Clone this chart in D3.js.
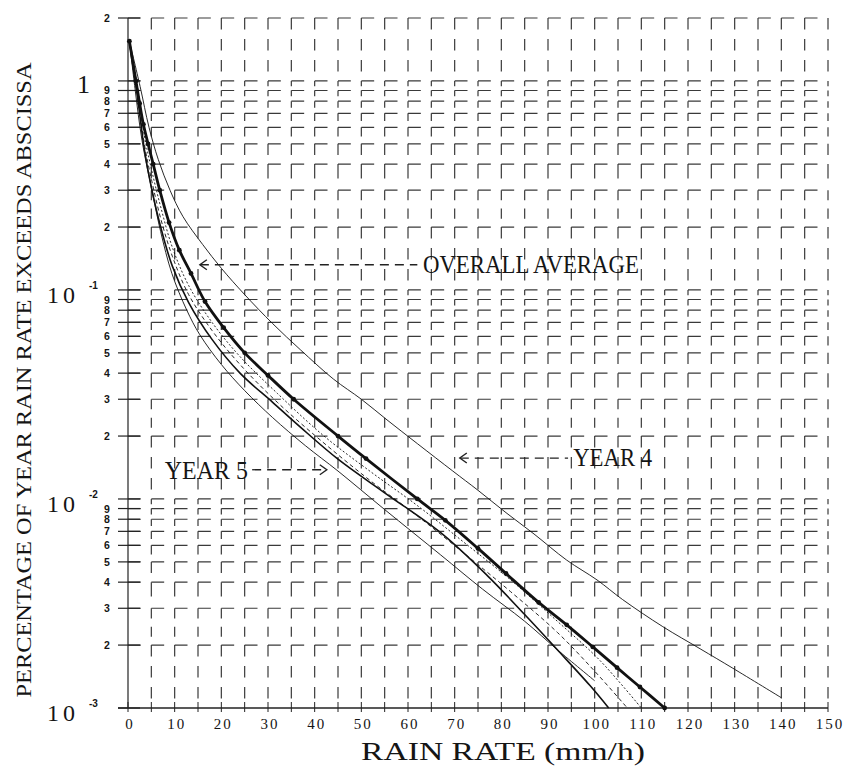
<html>
<style>
  body { margin: 0; background: #fff; }
  text { font-family: 'Liberation Serif', 'Times New Roman', serif; fill: #151515; }
  .minor { font-family: 'Liberation Sans', Arial, sans-serif; font-weight: bold; font-size: 10.5px; }
  .grid line { stroke: #3a3a3a; stroke-width: 1.2; }
  .curve { fill: none; stroke: #111; }
</style>
<body>
<svg width="847" height="771"></svg>
<script src="https://d3js.org/d3.v7.min.js"></script>
<script>
// rain rate (mm/h) vs percentage of year the rate is exceeded
const overallRate = [0.3, 1.7, 2.5, 3.3, 4.3, 5.4, 6.8, 8.8, 11, 13.5, 16.5, 20.5, 25, 30, 35.5, 45, 51, 62, 68, 75, 81, 88, 94, 99.6, 104.8, 109.7, 115]
const overallPct  = [1.55, 1.0, 0.78, 0.62, 0.5, 0.4, 0.3, 0.21, 0.155, 0.12, 0.088, 0.066, 0.05, 0.039, 0.03, 0.02, 0.0156, 0.01, 0.0079, 0.0058, 0.0044, 0.0032, 0.0025, 0.00196, 0.00156, 0.00126, 0.001]

const year4Rate = [0.3, 2.6, 4.5, 6.5, 9, 11.8, 16, 20, 25, 31, 37, 44, 50, 55.5, 62, 69.6, 75, 81, 87, 94, 100.5, 106, 114.6, 122.6, 129.6, 140]
const year4Pct  = [1.55, 0.94, 0.6, 0.42, 0.3, 0.224, 0.165, 0.127, 0.095, 0.069, 0.0516, 0.0375, 0.03, 0.0239, 0.0184, 0.0136, 0.011, 0.0086, 0.0068, 0.0051, 0.0041, 0.0033, 0.00245, 0.00192, 0.00155, 0.00112]

const year5Rate = [0.3, 1.5, 3, 5.4, 7, 9.4, 12.6, 15.4, 20, 25, 31, 38, 45, 55, 67, 76, 85, 92, 100]
const year5Pct  = [1.55, 0.92, 0.52, 0.28, 0.19, 0.12, 0.08, 0.061, 0.044, 0.033, 0.0245, 0.018, 0.0136, 0.0089, 0.0054, 0.0037, 0.0026, 0.0019, 0.00135]

const year1Rate = [0.3, 2, 3.5, 5, 7, 9.5, 13, 18, 24, 32, 42, 52, 62, 72, 82, 92, 101, 110]
const year1Pct  = [1.55, 0.95, 0.55, 0.38, 0.25, 0.16, 0.105, 0.07, 0.048, 0.032, 0.02, 0.0135, 0.0093, 0.0062, 0.0041, 0.0026, 0.0017, 0.001]

const year2Rate = [0.3, 2, 3.5, 5, 7, 9.5, 13, 18, 24, 32, 42, 52, 62, 72, 82, 92, 100, 107]
const year2Pct  = [1.55, 0.9, 0.5, 0.34, 0.22, 0.145, 0.095, 0.064, 0.044, 0.029, 0.0185, 0.0122, 0.0083, 0.0055, 0.0036, 0.0023, 0.0015, 0.001]

const year3Rate = [0.3, 2, 3.5, 5, 7, 9.5, 13, 18, 24, 31, 37, 45, 55, 67, 77, 85, 92, 99, 103]
const year3Pct  = [1.55, 0.85, 0.47, 0.31, 0.2, 0.13, 0.087, 0.058, 0.04, 0.029, 0.022, 0.0155, 0.0107, 0.0069, 0.0043, 0.0028, 0.0019, 0.00128, 0.001]

const xTicks = [0, 10, 20, 30, 40, 50, 60, 70, 80, 90, 100, 110, 120, 130, 140, 150]
const gridRates = [0,5,10,15,20,25,30,35,40,45,50,55,60,65,70,75,80,85,90,95,100,105,110,115,120,125,130,135,140,145,150]
const gridPcts = [0.001,0.002,0.003,0.004,0.005,0.006,0.007,0.008,0.009,
                  0.01,0.02,0.03,0.04,0.05,0.06,0.07,0.08,0.09,
                  0.1,0.2,0.3,0.4,0.5,0.6,0.7,0.8,0.9,1,2]
const majorPcts = [1, 0.1, 0.01, 0.001]
const majorExp = ["", "-1", "-2", "-3"]
const minorPcts = [2, 0.9,0.8,0.7,0.6,0.5,0.4,0.3,0.2,
                   0.09,0.08,0.07,0.06,0.05,0.04,0.03,0.02,
                   0.009,0.008,0.007,0.006,0.005,0.004,0.003,0.002]
const minorLabels = ["2","9","8","7","6","5","4","3","2","9","8","7","6","5","4","3","2","9","8","7","6","5","4","3","2"]

let svg = d3.select("svg")

let x = d3.scaleLinear().domain([0, 150]).range([128, 828])
let y = d3.scaleLog().domain([0.001, 2]).range([708, 18])

// dashed grid
let grid = svg.append("g").attr("class", "grid")
let cw = x(5) - x(0)
grid.selectAll(".h")
    .data(gridPcts.filter(p => p > 0.001))
    .join("line")
    .attr("x1", x(0)).attr("x2", x(150))
    .attr("y1", d => y(d)).attr("y2", d => y(d))
    .attr("stroke-dasharray", `${cw * 0.55},${cw * 0.45}`)

let cells = []
gridRates.filter(r => r > 0).forEach(r => {
    for (let j = 0; j < gridPcts.length - 1; j++) {
        cells.push({r: r, lo: gridPcts[j], hi: gridPcts[j + 1]})
    }
})
grid.selectAll(".v")
    .data(cells)
    .join("line")
    .attr("x1", d => x(d.r)).attr("x2", d => x(d.r))
    .attr("y1", d => y(d.hi)).attr("y2", d => y(d.lo))
    .attr("stroke-dasharray", d => {
        let h = y(d.lo) - y(d.hi)
        let n = Math.max(1, Math.round(h / 22))
        let per = h / n
        return `${per * 0.55},${per * 0.45}`
    })

// axis lines
svg.append("line")
    .attr("x1", x(0)).attr("x2", x(0))
    .attr("y1", y(2)).attr("y2", y(0.001))
    .attr("stroke", "#222").attr("stroke-width", 1.2)
svg.append("line")
    .attr("x1", x(0) - 10).attr("x2", x(150))
    .attr("y1", y(0.001)).attr("y2", y(0.001))
    .attr("stroke", "#222").attr("stroke-width", 1.3)
svg.append("g").selectAll("line")
    .data(gridPcts)
    .join("line")
    .attr("x1", x(0) - 10).attr("x2", x(0) + 12)
    .attr("y1", d => y(d)).attr("y2", d => y(d))
    .attr("stroke", "#222").attr("stroke-width", 1.2)
svg.append("g").selectAll("line")
    .data(gridRates)
    .join("line")
    .attr("x1", d => x(d)).attr("x2", d => x(d))
    .attr("y1", y(0.001) - 6).attr("y2", y(0.001) + 4)
    .attr("stroke", "#222").attr("stroke-width", 1)

// y labels
svg.append("g").selectAll("text")
    .data(minorPcts)
    .join("text")
    .attr("class", "minor")
    .attr("x", x(0) - 21)
    .attr("y", d => y(d) + 4)
    .attr("text-anchor", "middle")
    .text((d, i) => minorLabels[i])

majorPcts.forEach((p, i) => {
    if (i == 0) {
        svg.append("text").attr("x", 77).attr("y", y(p) + 12)
            .style("font-size", "26px").text("1")
    } else {
        svg.append("text").attr("x", 47).attr("y", y(p) + 13)
            .style("font-size", "24px").style("letter-spacing", "4px").text("10")
        svg.append("text").attr("class", "minor").attr("x", 89).attr("y", y(p) - 1)
            .style("font-size", "10px").text(majorExp[i])
    }
})

// x labels
svg.append("g").selectAll("text")
    .data(xTicks)
    .join("text")
    .attr("x", d => x(d) + 2)
    .attr("y", 729)
    .attr("text-anchor", "middle")
    .style("font-size", "15px")
    .style("letter-spacing", "2px")
    .text(d => d)

svg.append("text")
    .attr("x", 361).attr("y", 760)
    .attr("textLength", 284).attr("lengthAdjust", "spacingAndGlyphs")
    .style("font-size", "25px")
    .text("RAIN RATE (mm/h)")

svg.append("text")
    .attr("transform", "translate(31,380) rotate(-90)")
    .attr("text-anchor", "middle")
    .attr("textLength", 635).attr("lengthAdjust", "spacingAndGlyphs")
    .style("font-size", "22px")
    .text("PERCENTAGE OF YEAR RAIN RATE EXCEEDS ABSCISSA")

// curves
let line = d3.line()
    .x(d => x(d[0]))
    .y(d => y(d[1]))
    .curve(d3.curveCatmullRom.alpha(0.5))

let series = [
    {rate: year5Rate, pct: year5Pct, w: 0.9, dash: null},
    {rate: year3Rate, pct: year3Pct, w: 1.6, dash: null},
    {rate: year2Rate, pct: year2Pct, w: 0.9, dash: "4,3"},
    {rate: year1Rate, pct: year1Pct, w: 0.9, dash: "2,2"},
    {rate: year4Rate, pct: year4Pct, w: 0.9, dash: null},
    {rate: overallRate, pct: overallPct, w: 2.8, dash: null}
]
series.forEach(s => {
    svg.append("path")
        .attr("class", "curve")
        .attr("d", line(s.rate.map((r, i) => [r, s.pct[i]])))
        .attr("stroke-width", s.w)
        .attr("stroke-dasharray", s.dash)
})
svg.append("g").selectAll("circle")
    .data(overallRate.map((r, i) => [r, overallPct[i]]))
    .join("circle")
    .attr("cx", d => x(d[0])).attr("cy", d => y(d[1]))
    .attr("r", 2.4).attr("fill", "#111")

// annotations
function dashArrow(r1, r2, p, left) {
    svg.append("line")
        .attr("x1", x(r1)).attr("x2", x(r2))
        .attr("y1", y(p)).attr("y2", y(p))
        .attr("stroke", "#222").attr("stroke-width", 1.3)
        .attr("stroke-dasharray", "9,6")
    let tip = left ? x(r1) : x(r2)
    let s = left ? 1 : -1
    svg.append("path")
        .attr("d", `M${tip + s * 7},${y(p) - 5} L${tip},${y(p)} L${tip + s * 7},${y(p) + 5}`)
        .attr("fill", "none").attr("stroke", "#222").attr("stroke-width", 1.4)
}

dashArrow(15.4, 62, 0.132, true)
svg.append("text")
    .attr("x", x(63.2)).attr("y", y(0.132) + 8)
    .attr("textLength", 216).attr("lengthAdjust", "spacingAndGlyphs")
    .style("font-size", "25px")
    .text("OVERALL AVERAGE")

dashArrow(26.6, 42.6, 0.0138, false)
svg.append("text")
    .attr("x", x(7.9)).attr("y", y(0.0138) + 9)
    .attr("textLength", 83).attr("lengthAdjust", "spacingAndGlyphs")
    .style("font-size", "25px")
    .text("YEAR 5")

dashArrow(71.1, 94.3, 0.0157, true)
svg.append("text")
    .attr("x", x(95.4)).attr("y", y(0.0157) + 8)
    .attr("textLength", 79).attr("lengthAdjust", "spacingAndGlyphs")
    .style("font-size", "25px")
    .text("YEAR 4")
</script>
</body>
</html>
